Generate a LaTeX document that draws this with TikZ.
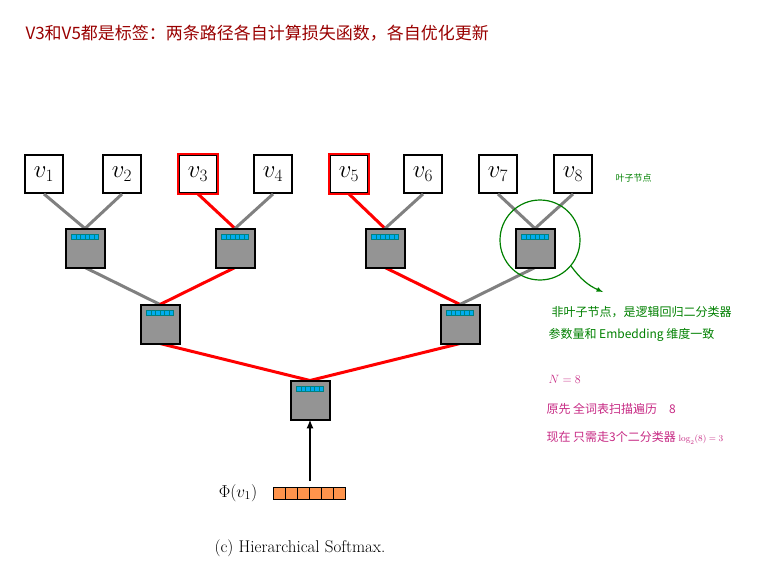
\documentclass[tikz,border=0pt]{standalone}
\usepackage{fontspec}
\newfontfamily\cjk{Noto Sans CJK SC}
\tikzset{
  leaf/.style={draw, line width=2pt, minimum size=38pt, inner sep=0pt, fill=white, font=\fontsize{26}{26}\selectfont},
  inner/.style={draw, line width=2pt, fill=gray!80!black!70, minimum size=37pt, inner sep=0pt},
  gray edge/.style={line width=3pt, gray},
  red edge/.style={line width=3pt, red},
  note/.style={anchor=west, font=\cjk\fontsize{12}{12}\selectfont}
}
\newcommand{\cyanbar}[1]{%
  \foreach \i in {0,...,5} \draw[fill=cyan, draw=teal, line width=0.4pt] ([xshift=-13.5pt+\i*4.5pt, yshift=-6pt]#1.north) rectangle ++(4.5pt,-4.5pt);}
\begin{document}
\begin{tikzpicture}[x=1pt, y=-1pt, >=latex]
\useasboundingbox (0,0) rectangle (766,578);

% Title
\node[anchor=west, text=red!60!black, font=\cjk\fontsize{17}{17}\selectfont] (title) at (22,33) {V3和V5都是标签：两条路径各自计算损失函数，各自优化更新};

% Leaves
\foreach \x [count=\k] in {44,122,198,273,349,423,498,573}
  \node[leaf] (v\k) at (\x,174) {$v_{\k}$};
\draw[red, line width=2pt] (v3.south west) rectangle (v3.north east);
\draw[red, line width=2pt] (v5.south west) rectangle (v5.north east);

% Inner nodes
\foreach \x [count=\k] in {85,235,385,535}
  \node[inner] (n\k) at (\x,248) {};
\node[inner] (m1) at (160,324) {};
\node[inner] (m2) at (460,324) {};
\node[inner] (root) at (310,400) {};

% Edges
\draw[gray edge] (v1.south) -- (n1.north);
\draw[gray edge] (v2.south) -- (n1.north);
\draw[red edge] (v3.south) -- (n2.north);
\draw[gray edge] (v4.south) -- (n2.north);
\draw[red edge] (v5.south) -- (n3.north);
\draw[gray edge] (v6.south) -- (n3.north);
\draw[gray edge] (v7.south) -- (n4.north);
\draw[gray edge] (v8.south) -- (n4.north);
\draw[gray edge] (n1.south) -- (m1.north);
\draw[red edge] (n2.south) -- (m1.north);
\draw[red edge] (n3.south) -- (m2.north);
\draw[gray edge] (n4.south) -- (m2.north);
\draw[red edge] (m1.south) -- (root.north);
\draw[red edge] (m2.south) -- (root.north);

% redraw inner nodes on top, with bars
\foreach \n in {n1,n2,n3,n4,m1,m2,root} {
  \draw[line width=2pt, fill=gray!80!black!70] (\n.south west) rectangle (\n.north east);
  \cyanbar{\n}
}

% Input vector
\node (phi) at (238,493) {\fontsize{17}{17}\selectfont$\Phi(v_1)$};
\foreach \i in {0,...,5}
  \draw[fill=orange!80!red!70, line width=0.5pt] (273+\i*12,487) rectangle ++(12,12);
\coordinate (vec) at (310,481);
\draw[->, line width=2pt] (vec) -- (root.south);

% Caption
\node[font=\fontsize{17}{17}\selectfont] (caption) at (300,548) {(c) Hierarchical Softmax.};

% Annotations
\node[note, text=green!50!black, font=\cjk\fontsize{9}{9}\selectfont] (leafnote) at (612,178) {叶子节点};
\node[draw=green!50!black, line width=1.2pt, circle, minimum size=80pt] (ring) at (540,240) {};
\coordinate (ringend) at (603,292);
\draw[->, green!50!black, line width=1.2pt] (ring.-40) to[bend right=15] (ringend);
\node[note, text=green!50!black] (green1) at (548,312) {非叶子节点，是逻辑回归二分类器};
\node[note, text=green!50!black] (green2) at (545,335) {参数量和 Embedding 维度一致};
\node[note, text=magenta!80!black] (pink1) at (545,379) {$N=8$};
\node[note, text=magenta!80!black] (pink2) at (543,409) {原先 全词表扫描遍历\quad 8};
\node[note, text=magenta!80!black] (pink3) at (543,438) {现在 只需走3个二分类器 {\fontsize{9}{9}\selectfont$\log_2(8)=3$}};
\end{tikzpicture}
\end{document}
